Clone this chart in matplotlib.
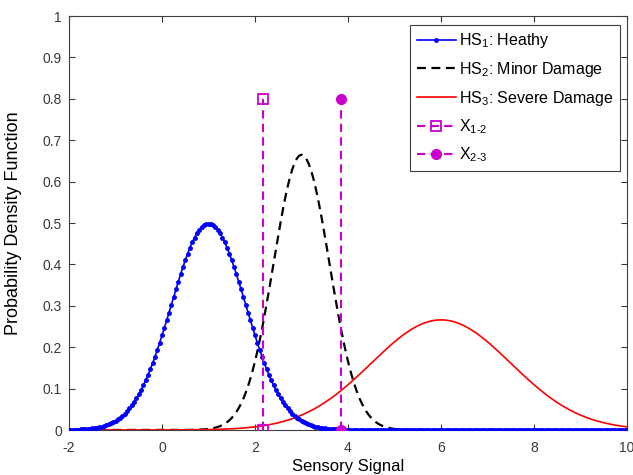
import numpy as np
import matplotlib
matplotlib.use("Agg")
import matplotlib.pyplot as plt

# Distribution parameters (mean, std)
hs_names = ["HS$_1$: Heathy", "HS$_2$: Minor Damage", "HS$_3$: Severe Damage"]
hs_means = [1.0, 3.0, 6.0]
hs_stds = [0.80, 0.60, 1.50]

# Signal grid used in the chart
x_start, x_stop, x_step = -2.0, 10.0, 0.05

# Threshold lines
thr_names = ["X$_{1\u20102}$", "X$_{2\u20103}$"]
thr_x = [2.17, 3.85]
thr_y = [0.0, 0.8]

xticks = [-2, 0, 2, 4, 6, 8, 10]
yticks = [0, 0.1, 0.2, 0.3, 0.4, 0.5, 0.6, 0.7, 0.8, 0.9, 1]
ytick_labels = ["0", "0.1", "0.2", "0.3", "0.4", "0.5", "0.6", "0.7", "0.8", "0.9", "1"]

plt.rcParams['font.family'] = ['Liberation Sans', 'DejaVu Sans']
plt.rcParams['mathtext.fontset'] = 'custom'
plt.rcParams['mathtext.rm'] = 'Liberation Sans'
plt.rcParams['mathtext.it'] = 'Liberation Sans'
plt.rcParams['mathtext.default'] = 'regular'
plt.rcParams['axes.unicode_minus'] = False

fig = plt.figure(figsize=(6.33, 4.75), dpi=100)
ax = fig.add_axes([69/633, 1-430/475, (627-69)/633, (430-16)/475])

x = np.arange(x_start, x_stop + x_step/2, x_step)

def pdf(v, m, s):
    return np.exp(-(v - m)**2 / (2*s*s)) / (s*np.sqrt(2*np.pi))

mag = (0.8, 0.0, 0.8)
ax.plot(x, pdf(x, hs_means[0], hs_stds[0]), color='blue', lw=1.2, marker='.', ms=5,
        label=hs_names[0], zorder=3)
ax.plot(x, pdf(x, hs_means[1], hs_stds[1]), color='black', lw=1.6, ls=(0, (4, 2.5)),
        label=hs_names[1], zorder=2)
ax.plot(x, pdf(x, hs_means[2], hs_stds[2]), color='red', lw=1.2,
        label=hs_names[2], zorder=2)
ax.plot([thr_x[0], thr_x[0]], thr_y, color=mag, lw=1.5, ls=(0, (4, 2.5)), marker='s',
        ms=7, mfc='none', mec=mag, mew=1.3, label=thr_names[0], zorder=4)
ax.plot([thr_x[1], thr_x[1]], thr_y, color=mag, lw=1.5, ls=(0, (4, 2.5)), marker='o',
        ms=7, mfc=mag, mec=mag, label=thr_names[1], zorder=4)

ax.set_xlim(-2, 10)
ax.set_ylim(0, 1)
ax.set_xticks(xticks)
ax.set_yticks(yticks)
ax.set_yticklabels(ytick_labels)
ax.tick_params(direction='in', top=True, right=True, labelsize=10, colors='#383838',
               length=4, width=0.8)
ax.tick_params(axis='x', pad=8)
ax.tick_params(axis='y', pad=5)
for sp in ax.spines.values():
    sp.set_color('#404040')
    sp.set_linewidth(0.8)

ax.set_xlabel("Sensory Signal", fontsize=12)
ax.xaxis.set_label_coords(0.5, -0.07)
ax.xaxis.label.set_va('top')
ax.set_ylabel("Probability Density Function", fontsize=13)
ax.yaxis.set_label_coords(-0.084, 0.5)

leg = ax.legend(loc='upper right', bbox_to_anchor=(0.9875, 0.978), fontsize=11.5,
                frameon=True, fancybox=False, framealpha=1, edgecolor='#404040',
                handlelength=2.5, handletextpad=0.15, borderpad=0.4, labelspacing=0.6,
                borderaxespad=0)
leg.get_frame().set_linewidth(0.8)

fig.savefig("out.png", dpi=100)
